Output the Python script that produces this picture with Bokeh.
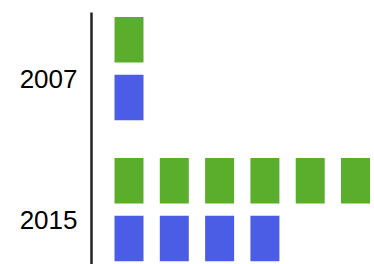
from bokeh.plotting import figure
from bokeh.models import Range1d, FixedTicker, ColumnDataSource
from bokeh.embed import file_html
from bokeh.resources import INLINE

# ---- data ----
years = ["2007", "2015"]
green_counts = [1, 6]
blue_counts = [1, 4]
green_color = "#5aae2b"
blue_color = "#4a5de4"

# ---- build icon positions from data ----
gx, gy, bx, by = [], [], [], []
for k, (g, b) in enumerate(zip(green_counts, blue_counts)):
    for i in range(g):
        gx.append(i + 0.5)
        gy.append(k - 0.278)
    for i in range(b):
        bx.append(i + 0.5)
        by.append(k + 0.131)

p = figure(width=374, height=264, output_backend="svg", toolbar_location=None,
           x_range=Range1d(-0.328, 5.919), y_range=Range1d(1.316, -0.4716),
           min_border_left=91, min_border_right=0, min_border_top=12, min_border_bottom=0)
p.xaxis.visible = False
p.xgrid.visible = False
p.ygrid.visible = False
p.outline_line_color = None
p.background_fill_color = "white"
p.border_fill_color = "white"

W = 0.64
H = 0.323
p.rect(x="x", y="y", width=W, height=H, source=ColumnDataSource(dict(x=gx, y=gy)),
       fill_color=green_color, line_color=None)
p.rect(x="x", y="y", width=W, height=H, source=ColumnDataSource(dict(x=bx, y=by)),
       fill_color=blue_color, line_color=None)

ax = p.yaxis[0]
ax.ticker = FixedTicker(ticks=list(range(len(years))))
ax.major_label_overrides = {k: y for k, y in enumerate(years)}
ax.major_tick_in = 0
ax.major_tick_out = 0
ax.minor_tick_in = 0
ax.minor_tick_out = 0
ax.major_label_standoff = 14
ax.major_label_text_font = "Liberation Sans"
ax.major_label_text_font_size = "26px"
ax.major_label_text_color = "black"
ax.axis_line_color = "#222222"
ax.axis_line_width = 2.5

open("out.html", "w").write(file_html(p, INLINE))
